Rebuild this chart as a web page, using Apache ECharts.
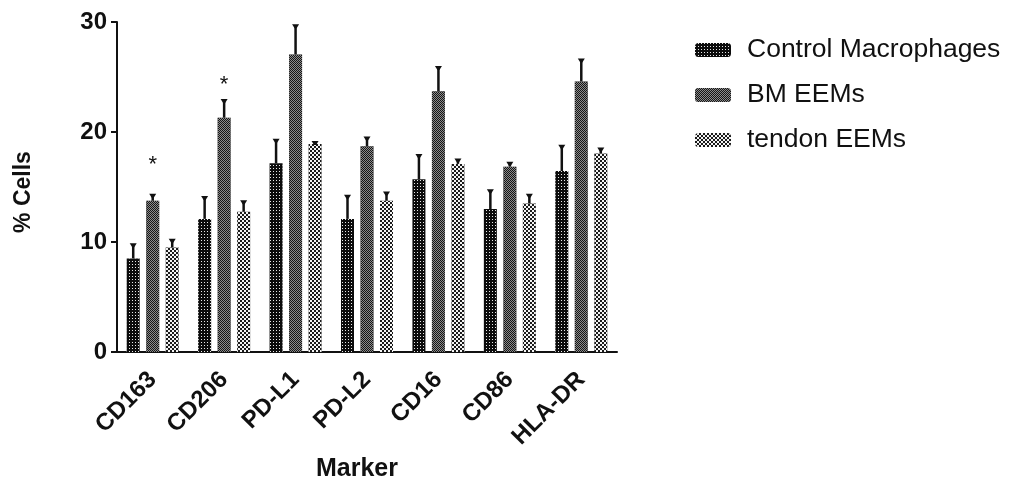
<!DOCTYPE html>
<html>
<head>
<meta charset="utf-8">
<script src="https://cdn.jsdelivr.net/npm/echarts@6/dist/echarts.min.js"></script>
<style>
html,body{margin:0;padding:0;background:#fff;}
#chart{width:1011px;height:504px;}
</style>
</head>
<body>
<div id="chart"></div>
<script>
const categories = ['CD163', 'CD206', 'PD-L1', 'PD-L2', 'CD16', 'CD86', 'HLA-DR'];
const seriesNames = ['Control Macrophages', 'BM EEMs', 'tendon EEMs'];
const controlMean = [8.5, 12.1, 17.15, 12.1, 15.7, 13.0, 16.45];
const controlSem  = [1.3, 2.0, 2.15, 2.1, 2.2, 1.7, 2.3];
const bmMean      = [13.75, 21.3, 27.05, 18.7, 23.7, 16.85, 24.6];
const bmSem       = [0.55, 1.6, 2.65, 0.8, 2.2, 0.35, 2.0];
const tendonMean  = [9.5, 12.75, 18.9, 13.75, 17.1, 13.5, 18.05];
const tendonSem   = [0.7, 0.95, 0.2, 0.75, 0.4, 0.8, 0.45];
const starCategories = ['CD163', 'CD206'];
const starValues = [17, 24.3];
const yTicks = [0, 10, 20, 30];

const FONT = 'Liberation Sans, Arial, sans-serif';
const BAR_W = 13;
const STEP = 19.5;

const decals = [
  {symbol: 'rect', color: '#e8e8e8', dashArrayX: [1, 2], dashArrayY: [1, 2], symbolSize: 1, rotation: 0},
  {symbol: 'rect', color: '#8c8c8c', dashArrayX: [[1, 1], [0, 1, 1, 0]], dashArrayY: [1, 0], symbolSize: 1, rotation: 0},
  {symbol: 'rect', color: '#f4f4f4', dashArrayX: [[2, 2], [0, 2, 2, 0]], dashArrayY: [2, 0], symbolSize: 1, rotation: 0}
];
const baseColors = ['#0c0c0c', '#151515', '#1a1a1a'];

const means = [controlMean, bmMean, tendonMean];
const sems = [controlSem, bmSem, tendonSem];

const series = [];
means.forEach((m, i) => {
  series.push({
    name: seriesNames[i],
    type: 'bar',
    data: m,
    barWidth: BAR_W,
    barGap: '50%',
    itemStyle: {color: baseColors[i], decal: decals[i]},
    emphasis: {disabled: true}
  });
});
means.forEach((m, i) => {
  series.push({
    type: 'custom',
    silent: true,
    data: m.map((v, k) => [k, v, v + sems[i][k]]),
    renderItem: function (params, api) {
      const base = api.coord([api.value(0), api.value(1)]);
      const top = api.coord([api.value(0), api.value(2)]);
      const x = base[0] + (i - 1) * STEP;
      return {
        type: 'group',
        children: [
          {type: 'line', shape: {x1: x, y1: base[1], x2: x, y2: top[1]}, style: {stroke: '#111', lineWidth: 2.5}},
          {type: 'polygon', shape: {points: [[x - 3.5, top[1] - 1], [x + 3.5, top[1] - 1], [x + 1, top[1] + 3], [x - 1, top[1] + 3]]}, style: {fill: '#111'}}
        ]
      };
    },
    z: 5
  });
});
series.push({
  type: 'custom',
  silent: true,
  data: starCategories.map((c, k) => [categories.indexOf(c), starValues[k]]),
  renderItem: function (params, api) {
    const p = api.coord([api.value(0), api.value(1)]);
    return {type: 'text', style: {text: '*', x: p[0], y: p[1], align: 'center', verticalAlign: 'middle', font: '22px ' + FONT, fill: '#111'}};
  },
  z: 6
});

const chart = echarts.init(document.getElementById('chart'), null, {renderer: 'canvas'});
chart.setOption({
  animation: false,
  backgroundColor: '#ffffff',
  legend: {
    orient: 'vertical',
    left: 690,
    top: 30,
    itemWidth: 36,
    itemHeight: 14,
    itemGap: 15,
    data: seriesNames,
    textStyle: {fontFamily: FONT, fontSize: 26.5, lineHeight: 30, color: '#111', padding: [0, 0, 0, 11]}
  },
  grid: {left: 117, right: 394, top: 22, bottom: 152, containLabel: false},
  xAxis: {
    type: 'category',
    data: categories,
    name: 'Marker',
    nameLocation: 'middle',
    nameGap: 105,
    nameTextStyle: {fontFamily: FONT, fontSize: 25, fontWeight: 'bold', color: '#111', padding: [0, 20, 0, 0]},
    axisLine: {lineStyle: {color: '#111', width: 2}},
    axisTick: {alignWithLabel: true, length: 6, lineStyle: {color: '#111', width: 2}},
    axisLabel: {rotate: 45, margin: 24, fontFamily: FONT, fontSize: 24, fontWeight: 'bold', color: '#111'}
  },
  yAxis: {
    type: 'value',
    min: yTicks[0],
    max: yTicks[yTicks.length - 1],
    interval: yTicks[1] - yTicks[0],
    name: '% Cells',
    nameLocation: 'middle',
    nameGap: 82,
    nameRotate: 90,
    nameTextStyle: {fontFamily: FONT, fontSize: 23, fontWeight: 'bold', color: '#111', padding: [0, 10, 0, 0]},
    axisLine: {show: true, lineStyle: {color: '#111', width: 2}},
    axisTick: {show: true, length: 6, lineStyle: {color: '#111', width: 2}},
    axisLabel: {margin: 10, fontFamily: FONT, fontSize: 24, fontWeight: 'bold', color: '#111'},
    splitLine: {show: false}
  },
  series: series
});
</script>
</body>
</html>
